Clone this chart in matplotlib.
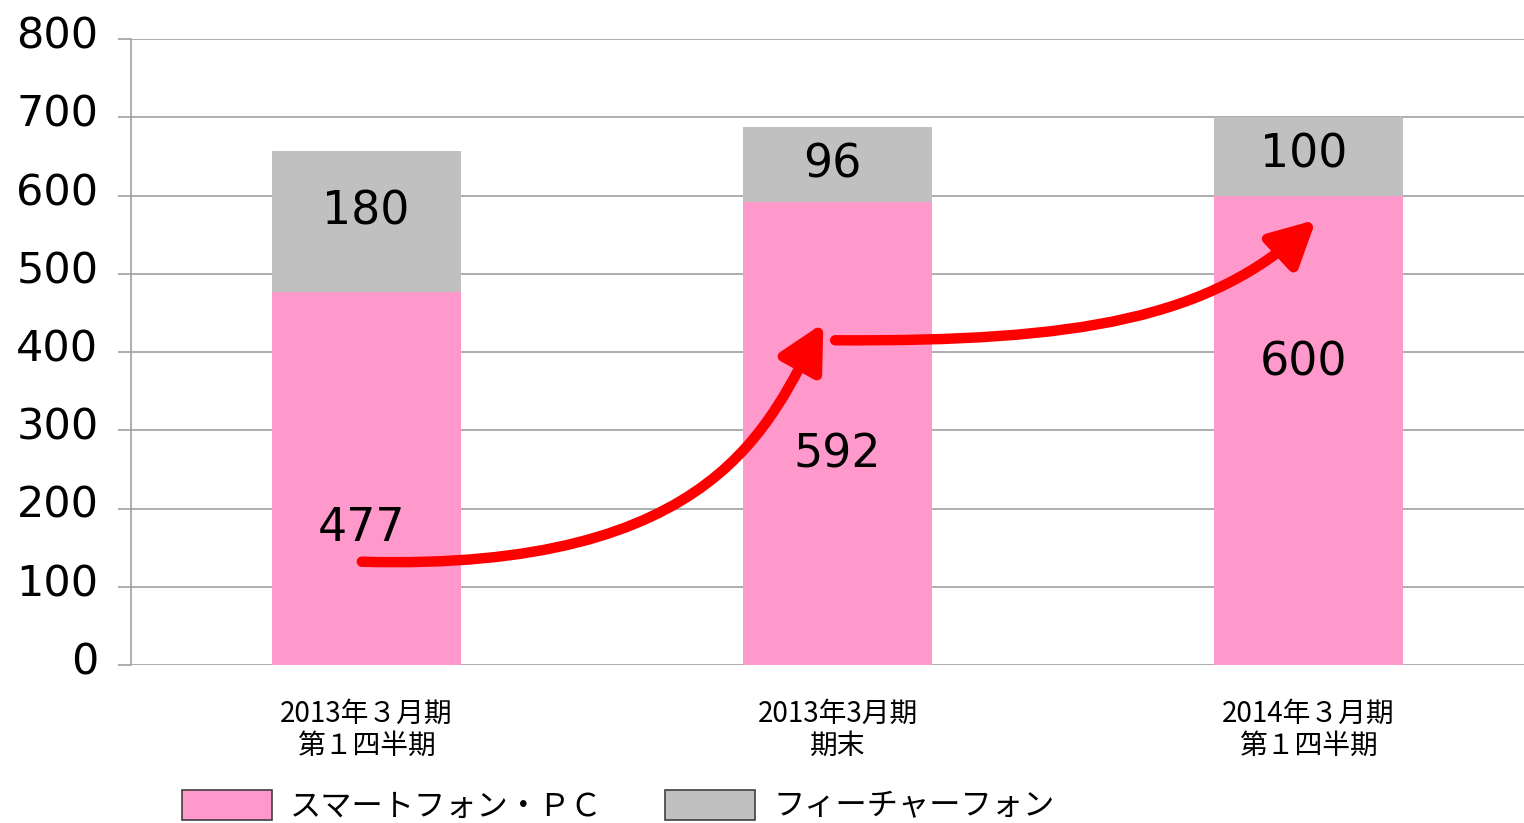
import numpy as np
import matplotlib
matplotlib.use("Agg")
import matplotlib.pyplot as plt
from matplotlib.patches import Patch, FancyArrowPatch
from matplotlib.path import Path
from matplotlib.transforms import ScaledTranslation

# data
categories = ["2013年３月期\n第１四半期", "2013年3月期\n期末", "2014年３月期\n第１四半期"]
smartphone_pc = [477, 592, 600]
feature_phone = [180, 96, 100]
series_names = ["スマートフォン・ＰＣ", "フィーチャーフォン"]

# manual label positions (value axis) as in the original slide
pink_label_y = [175, 268, 386]
gray_label_y = [579, 639, 652]
pink_label_dx = [-0.01, 0.0, -0.01]
gray_label_dx = [-0.002, -0.01, -0.01]

# growth arrows (cubic bezier control points, data coords)
arrow1 = [(-0.01, 132), (0.75, 119), (0.857, 313), (0.97, 437)]
arrow2 = [(0.995, 415), (1.515, 413), (1.791, 443), (2.016, 569)]

PINK = "#FF99CC"
GRAY = "#C0C0C0"
GRID = "#A0A0A0"
JP = ["Noto Sans CJK JP", "DejaVu Sans"]

W, H = 1524, 823
fig = plt.figure(figsize=(W / 100, H / 100), dpi=100)
ax = fig.add_axes([131 / W, (H - 665) / H, (1544 - 131) / W, 626 / H])

x = np.arange(len(categories))
ax.bar(x, smartphone_pc, width=0.4, color=PINK, zorder=2)
ax.bar(x, feature_phone, width=0.4, bottom=smartphone_pc, color=GRAY, zorder=2)

for i in range(len(x)):
    ax.text(x[i] + pink_label_dx[i], pink_label_y[i], str(smartphone_pc[i]),
            ha="center", va="center", fontsize=33, color="black", zorder=4)
    ax.text(x[i] + gray_label_dx[i], gray_label_y[i], str(feature_phone[i]),
            ha="center", va="center", fontsize=33, color="black", zorder=4)

codes = [Path.MOVETO, Path.CURVE4, Path.CURVE4, Path.CURVE4]
for pts, z in [(arrow2, 5), (arrow1, 6)]:
    arr = FancyArrowPatch(path=Path(pts, codes),
                          arrowstyle="-|>,head_length=27,head_width=14",
                          mutation_scale=1, color="#FF0000", lw=7.5,
                          shrinkA=0, shrinkB=0, zorder=z)
    ax.add_patch(arr)

ax.set_xlim(-0.5, 2.5)
ax.set_ylim(0, 800)
ax.set_yticks(np.arange(0, 801, 100))
ax.yaxis.grid(True, color=GRID, lw=1.2, zorder=0)
ax.set_axisbelow(True)
for s in ["top", "right", "bottom"]:
    ax.spines[s].set_visible(False)
ax.spines["left"].set_color(GRID)
ax.spines["left"].set_linewidth(1.2)
ax.tick_params(axis="y", length=9.4, width=1.2, color=GRID, labelsize=31, pad=14)
# excel puts the value labels a little above their gridline
up = ScaledTranslation(0, 7 / 100, fig.dpi_scale_trans)
for lab in ax.get_yticklabels():
    lab.set_transform(lab.get_transform() + up)

ax.set_xticks(x)
ax.set_xticklabels(categories, fontfamily=JP, fontsize=20, linespacing=1.1)
ax.tick_params(axis="x", length=0, pad=24)

handles = [Patch(facecolor=PINK, edgecolor="#404040", lw=1.2),
           Patch(facecolor=GRAY, edgecolor="#404040", lw=1.2)]
fig.legend(handles, series_names, loc="upper left",
           bbox_to_anchor=(182 / W, 1 - 790 / H), ncol=2, frameon=False,
           prop={"family": JP, "size": 22.5}, handlelength=2.88,
           handleheight=1.1, handletextpad=0.58, columnspacing=2.0,
           borderpad=0, borderaxespad=0)

fig.savefig("out.png", dpi=100)
